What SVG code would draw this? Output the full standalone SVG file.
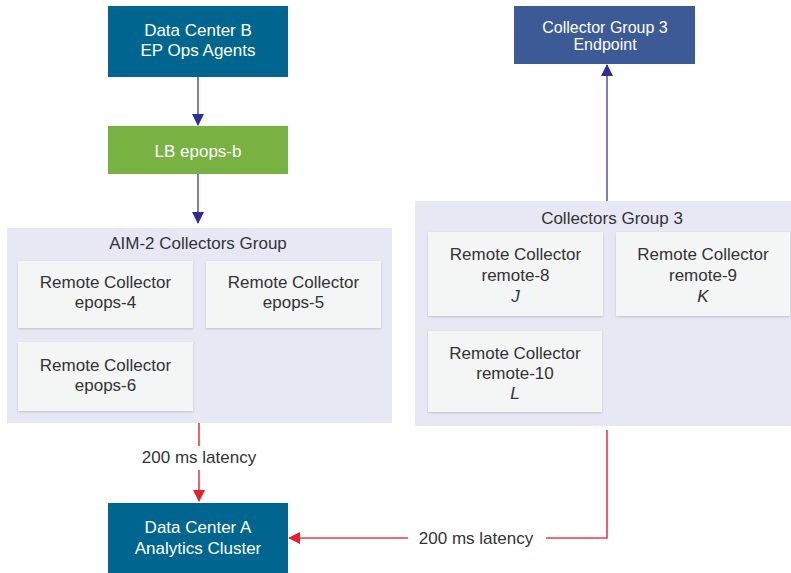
<svg xmlns="http://www.w3.org/2000/svg" width="791" height="573" viewBox="0 0 791 573">
<defs>
<style>
text{font-family:"Liberation Sans",Arial,sans-serif;font-size:17px;text-anchor:middle}
.w{fill:#ffffff}
.d{fill:#333333}
.sm{font-size:16px}
.grp{fill:#e8e8f5}
.box{fill:#f4f5f5}
.blue{stroke:#5c5cb0;stroke-width:1.6;fill:none}
.red{stroke:#ee3a47;stroke-width:1.6;fill:none}
</style>
<filter id="sh" x="-5%" y="-5%" width="110%" height="115%">
<feDropShadow dx="0" dy="1" stdDeviation="1" flood-color="#000" flood-opacity="0.18"/>
</filter>
<marker id="ab" markerWidth="12" markerHeight="12" refX="11" refY="6" orient="auto" markerUnits="userSpaceOnUse">
<path d="M0,0 L12,6 L0,12 Z" fill="#2e2e96"/>
</marker>
<marker id="ar" markerWidth="12" markerHeight="12" refX="11" refY="6" orient="auto" markerUnits="userSpaceOnUse">
<path d="M0,0 L12,6 L0,12 Z" fill="#e8202e"/>
</marker>
</defs>

<g id="aim2-group">
<rect class="grp" x="7" y="228" width="385" height="195"/>
<text class="d" x="198" y="249">AIM-2 Collectors Group</text>
</g>
<g id="group3">
<rect class="grp" x="415" y="201" width="390" height="225"/>
<text class="d" x="612" y="224">Collectors Group 3</text>
</g>

<g id="dc-b">
<rect x="108" y="6" width="180" height="71" fill="#00668f"/>
<text class="w" x="198" y="36">Data Center B</text>
<text class="w" x="198" y="56">EP Ops Agents</text>
</g>
<g id="lb">
<rect x="108" y="126" width="180" height="48" fill="#78b242"/>
<text class="w" x="198" y="157">LB epops-b</text>
</g>
<g id="endpoint">
<rect x="514" y="6" width="181" height="58" fill="#3c5a96"/>
<text class="w sm" x="605" y="33">Collector Group 3</text>
<text class="w sm" x="605" y="50">Endpoint</text>
</g>
<g id="dc-a">
<rect x="108" y="503" width="180" height="70" fill="#00668f"/>
<text class="w" x="198" y="533">Data Center A</text>
<text class="w" x="198" y="554">Analytics Cluster</text>
</g>

<g id="epops-4">
<rect class="box" x="18" y="261" width="175" height="67" filter="url(#sh)"/>
<text class="d" x="105.5" y="288">Remote Collector</text>
<text class="d" x="105.5" y="308">epops-4</text>
</g>
<g id="epops-5">
<rect class="box" x="206" y="261" width="175" height="67" filter="url(#sh)"/>
<text class="d" x="293.5" y="288">Remote Collector</text>
<text class="d" x="293.5" y="308">epops-5</text>
</g>
<g id="epops-6">
<rect class="box" x="18" y="342" width="175" height="69" filter="url(#sh)"/>
<text class="d" x="105.5" y="371">Remote Collector</text>
<text class="d" x="105.5" y="391">epops-6</text>
</g>
<g id="remote-8">
<rect class="box" x="428" y="232" width="175" height="84" filter="url(#sh)"/>
<text class="d" x="515.5" y="260">Remote Collector</text>
<text class="d" x="515.5" y="281">remote-8</text>
<text class="d" x="515.5" y="302" font-style="italic">J</text>
</g>
<g id="remote-9">
<rect class="box" x="616" y="232" width="174" height="84" filter="url(#sh)"/>
<text class="d" x="703" y="260">Remote Collector</text>
<text class="d" x="703" y="281">remote-9</text>
<text class="d" x="703" y="302" font-style="italic">K</text>
</g>
<g id="remote-10">
<rect class="box" x="428" y="331" width="174" height="81" filter="url(#sh)"/>
<text class="d" x="515" y="359">Remote Collector</text>
<text class="d" x="515" y="379">remote-10</text>
<text class="d" x="515" y="399" font-style="italic">L</text>
</g>

<g id="connectors">
<line class="blue" x1="198" y1="77" x2="198" y2="125" marker-end="url(#ab)"/>
<line class="blue" x1="198" y1="174" x2="198" y2="223" marker-end="url(#ab)"/>
<line class="blue" x1="607" y1="201" x2="607" y2="65" marker-end="url(#ab)"/>
<line class="red" x1="199" y1="423" x2="199" y2="446"/>
<line class="red" x1="199" y1="470" x2="199" y2="501" marker-end="url(#ar)"/>
<text class="d" x="199" y="463">200 ms latency</text>
<polyline class="red" points="607,430 607,538 546,538"/>
<line class="red" x1="408" y1="538" x2="289" y2="538" marker-end="url(#ar)"/>
<text class="d" x="476" y="544">200 ms latency</text>
</g>
</svg>
